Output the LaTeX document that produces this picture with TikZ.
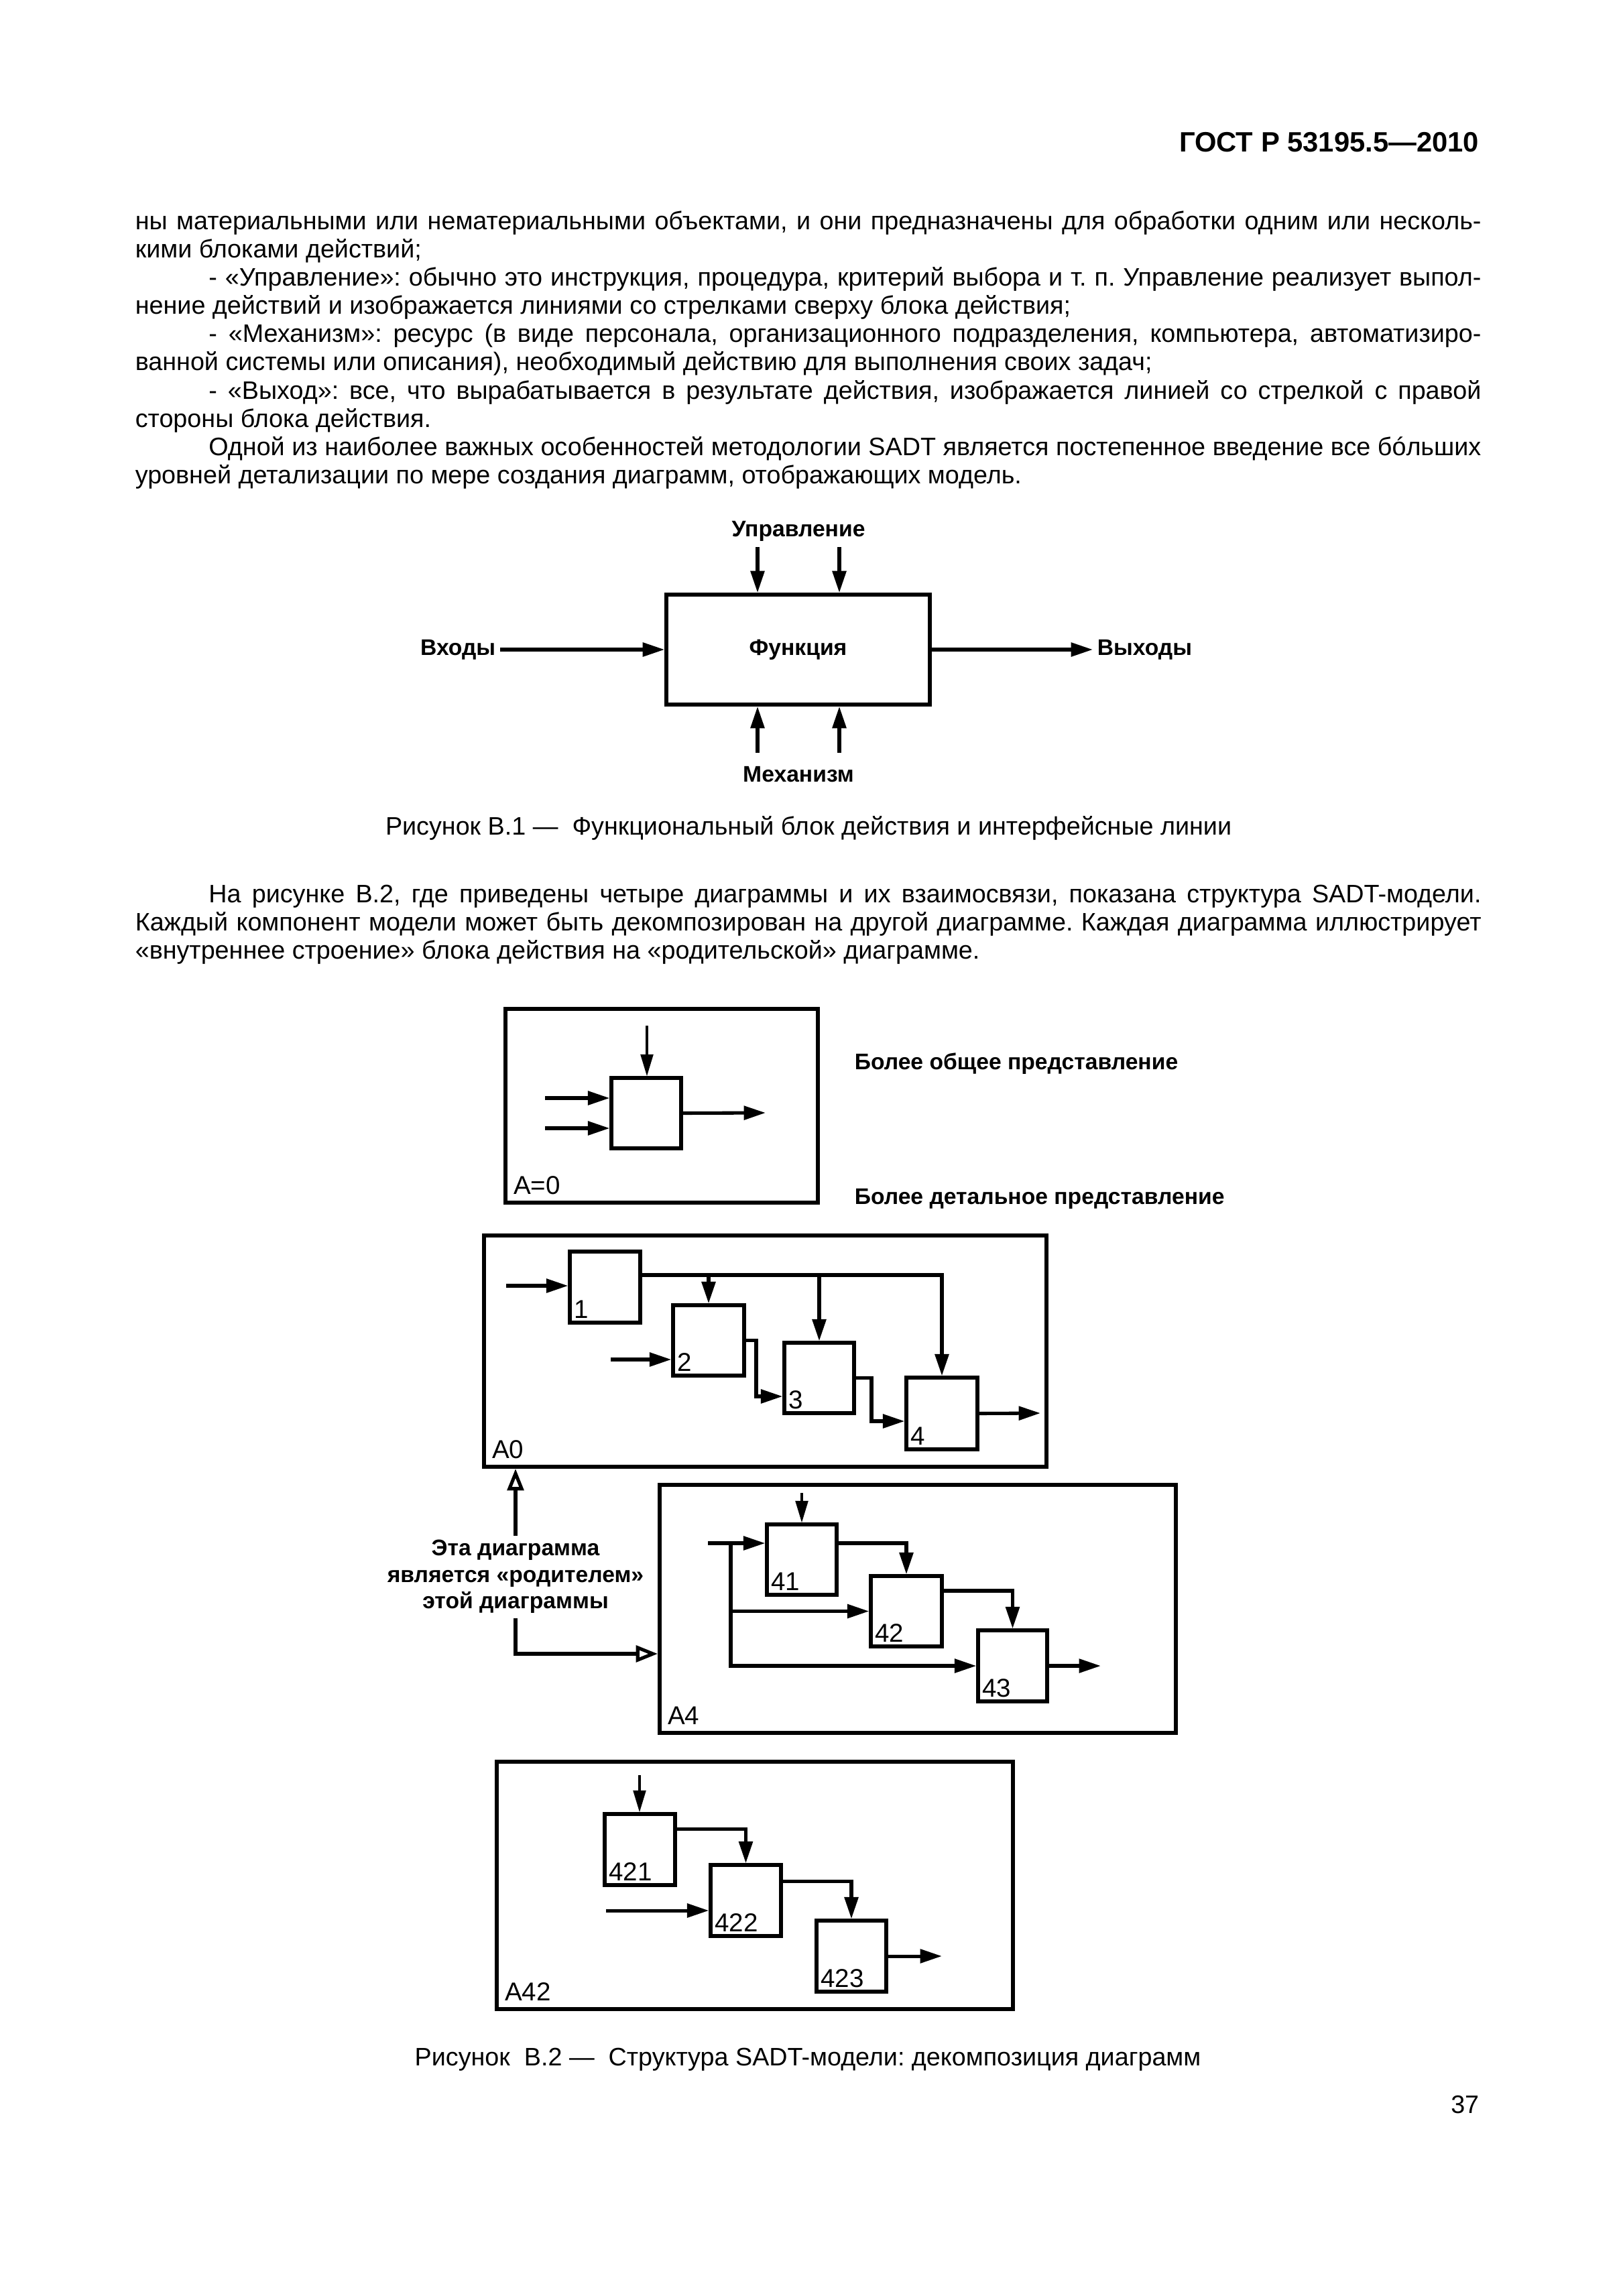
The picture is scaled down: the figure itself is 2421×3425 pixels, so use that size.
\documentclass[tikz,border=0pt]{standalone}
\usepackage{fontspec}
\setmainfont{Liberation Sans}
\usetikzlibrary{arrows.meta,fit}
\newlength\txtw \setlength\txtw{17.4cm}
\newlength\firstind \setlength\firstind{0.95cm}
\newcommand\bodyfont{\fontsize{9.3}{10.4}\selectfont\frenchspacing\spaceskip=0.278em plus 0.5em minus 0.1em\relax}
\tikzset{
  txt/.style={inner sep=0pt, font=\bodyfont},
  lbl/.style={inner sep=1.5pt, font=\bfseries\fontsize{8.3}{9.7}\selectfont},
  num/.style={inner sep=2pt, anchor=south west, font=\fontsize{9.5}{11}\selectfont},
  diag/.style={draw, line width=1.4pt, inner sep=0pt},
  blk/.style={draw, line width=1.3pt, inner sep=0pt},
  arr/.style={line width=1.25pt, -{Triangle[length=8pt,width=5pt]}},
  thinarr/.style={line width=0.8pt, -{Triangle[length=8pt,width=4.6pt]}},
  parr/.style={line width=1.25pt, -{Triangle[open,length=8pt,width=6pt,fill=white]}}
}

\begin{document}
\begin{tikzpicture}[x=0.0086741cm, y=-0.0086741cm]
  \path[fill=white, use as bounding box] (0,0) rectangle (2421,3425);

  % page head and text
  \node[inner sep=0pt, anchor=base east, font=\bfseries\fontsize{10.3}{12}\selectfont] (hdr) at (2207,226) {ГОСТ Р 53195.5—2010};
  \node[txt, anchor=base west, text width=\txtw, align=justify] (par1) at (201,342) {%
    ны материальными или нематериальными объектами, и они предназначены для обработки одним или несколь-\linebreak
    кими блоками действий;\par
    \hspace*{\firstind}- «Управление»: обычно это инструкция, процедура, критерий выбора и т. п. Управление реализует выпол-\linebreak
    нение действий и изображается линиями со стрелками сверху блока действия;\par
    \hspace*{\firstind}- «Механизм»: ресурс (в виде персонала, организационного подразделения, компьютера, автоматизиро-\linebreak
    ванной системы или описания), необходимый действию для выполнения своих задач;\par
    \hspace*{\firstind}- «Выход»: все, что вырабатывается в результате действия, изображается линией со стрелкой с правой\linebreak
    стороны блока действия.\par
    \hspace*{\firstind}Одной из наиболее важных особенностей методологии SADT является постепенное введение все бóльших\linebreak
    уровней детализации по мере создания диаграмм, отображающих модель.};

  % figure B.1
  \node[diag, fit={(994,887) (1387,1051)}] (fn) {};
  \node[lbl] (fnt) at (fn.center) {Функция};
  \node[lbl] (upr) at (1191,792) {Управление};
  \node[lbl] (mex) at (1191,1155) {Механизм};
  \node[lbl, anchor=east] (vx) at (746,969) {Входы};
  \node[lbl, anchor=west] (vy) at (1630,969) {Выходы};
  \coordinate (u1) at (1130,816);
  \coordinate (u2) at (1252,816);
  \coordinate (m1) at (1130,1123);
  \coordinate (m2) at (1252,1123);
  \draw[arr] (u1) -- (u1 |- fn.north);
  \draw[arr] (u2) -- (u2 |- fn.north);
  \draw[arr] (m1) -- (m1 |- fn.south);
  \draw[arr] (m2) -- (m2 |- fn.south);
  \draw[arr] (vx) -- (fn);
  \draw[arr] (fn) -- (vy);
  \node[txt, anchor=base] (cap1) at (1206,1245) {Рисунок В.1 —\ \ Функциональный блок действия и интерфейсные линии};

  \node[txt, anchor=base west, text width=\txtw, align=justify] (par2) at (201,1346) {%
    \hspace*{\firstind}На рисунке В.2, где приведены четыре диаграммы и их взаимосвязи, показана структура SADT-модели.\linebreak
    Каждый компонент модели может быть декомпозирован на другой диаграмме. Каждая диаграмма иллюстрирует\linebreak
    «внутреннее строение» блока действия на «родительской» диаграмме.};

  % figure B.2, diagram A=0
  \node[diag, fit={(754,1505) (1220,1794)}] (fA) {};
  \node[num, inner sep=3.5pt] (lA) at (fA.south west) {A=0};
  \node[blk, fit={(912,1608) (1016,1713)}] (a) {};
  \coordinate (ca) at (965,1530);
  \coordinate (ia1) at (813,1638);
  \coordinate (ia2) at (813,1683);
  \coordinate (oa) at (1142,1660);
  \draw[thinarr] (ca) -- (ca |- a.north);
  \draw[arr] (ia1) -- (ia1 -| a.west);
  \draw[arr] (ia2) -- (ia2 -| a.west);
  \draw[arr] (a.east) -- (oa);
  \node[lbl, anchor=west] (obsh) at (1268,1587) {Более общее представление};
  \node[lbl, anchor=west] (detal) at (1268,1788) {Более детальное представление};

  % diagram A0
  \node[diag, fit={(722,1843) (1561,2188)}] (fA0) {};
  \node[num, inner sep=3.5pt] (lA0) at (fA0.south west) {A0};
  \node[blk, fit={(850,1867) (955,1973)}] (b1) {};
  \node[blk, fit={(1004,1947) (1110,2052)}] (b2) {};
  \node[blk, fit={(1170,2003) (1274,2108)}] (b3) {};
  \node[blk, fit={(1352,2055) (1458,2162)}] (b4) {};
  \node[num] (n1) at (b1.south west) {1};
  \node[num] (n2) at (b2.south west) {2};
  \node[num] (n3) at (b3.south west) {3};
  \node[num] (n4) at (b4.south west) {4};
  \coordinate (in1) at (755,1918);
  \coordinate (in2) at (911,2028);
  \coordinate (bus) at (1405,1902);
  \coordinate (j23) at (1128,2083);
  \coordinate (j34) at (1300,2120);
  \coordinate (o4) at (1552,2108);
  \draw[arr] (in1) -- (in1 -| b1.west);
  \draw[arr] (in2) -- (in2 -| b2.west);
  \draw[arr] (b1.east |- bus) -| (b4.north);
  \draw[arr] (b2.north |- bus) -- (b2.north);
  \draw[arr] (b3.north |- bus) -- (b3.north);
  \draw[arr] (b2.east) -| (j23) -- (j23 -| b3.west);
  \draw[arr] (b3.east) -| (j34) -- (j34 -| b4.west);
  \draw[arr] (b4.east) -- (o4);

  % parent link
  \node[lbl, align=center] (par) at (769,2352) {Эта диаграмма\\является «родителем»\\этой диаграммы};
  \coordinate (pj) at (769,2467);
  \draw[parr] (par.north) -- (par.north |- fA0.south);

  % diagram A4
  \node[diag, fit={(984,2215) (1754,2585)}] (fA4) {};
  \node[num, inner sep=3.5pt] (lA4) at (fA4.south west) {A4};
  \draw[parr] (par.south) -- (pj) -- (pj -| fA4.west);
  \node[blk, fit={(1144,2274) (1248,2379)}] (b41) {};
  \node[blk, fit={(1299,2351) (1405,2456)}] (b42) {};
  \node[blk, fit={(1459,2432) (1562,2538)}] (b43) {};
  \node[num] (n41) at (b41.south west) {41};
  \node[num] (n42) at (b42.south west) {42};
  \node[num] (n43) at (b43.south west) {43};
  \coordinate (c41) at (1196,2227);
  \coordinate (i4) at (1056,2302);
  \coordinate (k4) at (1090,2302);
  \coordinate (m42) at (1352,2373);
  \coordinate (o43) at (1642,2485);
  \draw[thinarr] (c41) -- (c41 |- b41.north);
  \draw[arr] (i4) -- (i4 -| b41.west);
  \draw[arr] (k4) |- (b42.west);
  \draw[arr] (k4) |- (b43.west);
  \draw[arr] (b41.east |- i4) -| (b42.north);
  \draw[arr] (b42.east |- m42) -| (b43.north);
  \draw[arr] (b43.east) -- (o43);

  % diagram A42
  \node[diag, fit={(741,2628) (1511,2997)}] (fA42) {};
  \node[num, inner sep=3.5pt] (lA42) at (fA42.south west) {A42};
  \node[blk, fit={(902,2706) (1007,2812)}] (b421) {};
  \node[blk, fit={(1060,2782) (1165,2888)}] (b422) {};
  \node[blk, fit={(1218,2865) (1322,2971)}] (b423) {};
  \node[num] (n421) at (b421.south west) {421};
  \node[num] (n422) at (b422.south west) {422};
  \node[num] (n423) at (b423.south west) {423};
  \coordinate (c421) at (954,2648);
  \coordinate (m421) at (1112,2728);
  \coordinate (i422) at (904,2850);
  \coordinate (m422) at (1270,2806);
  \coordinate (o423) at (1405,2918);
  \draw[thinarr] (c421) -- (c421 |- b421.north);
  \draw[arr] (b421.east |- m421) -| (b422.north);
  \draw[arr] (i422) -- (i422 -| b422.west);
  \draw[arr] (b422.east |- m422) -| (b423.north);
  \draw[arr] (b423.east) -- (o423);

  \node[txt, anchor=base] (cap2) at (1205,3081) {Рисунок\ \ В.2 —\ \ Структура SADT-модели: декомпозиция диаграмм};
  \node[txt, anchor=base east] (pg) at (2207,3152) {37};
\end{tikzpicture}
\end{document}
